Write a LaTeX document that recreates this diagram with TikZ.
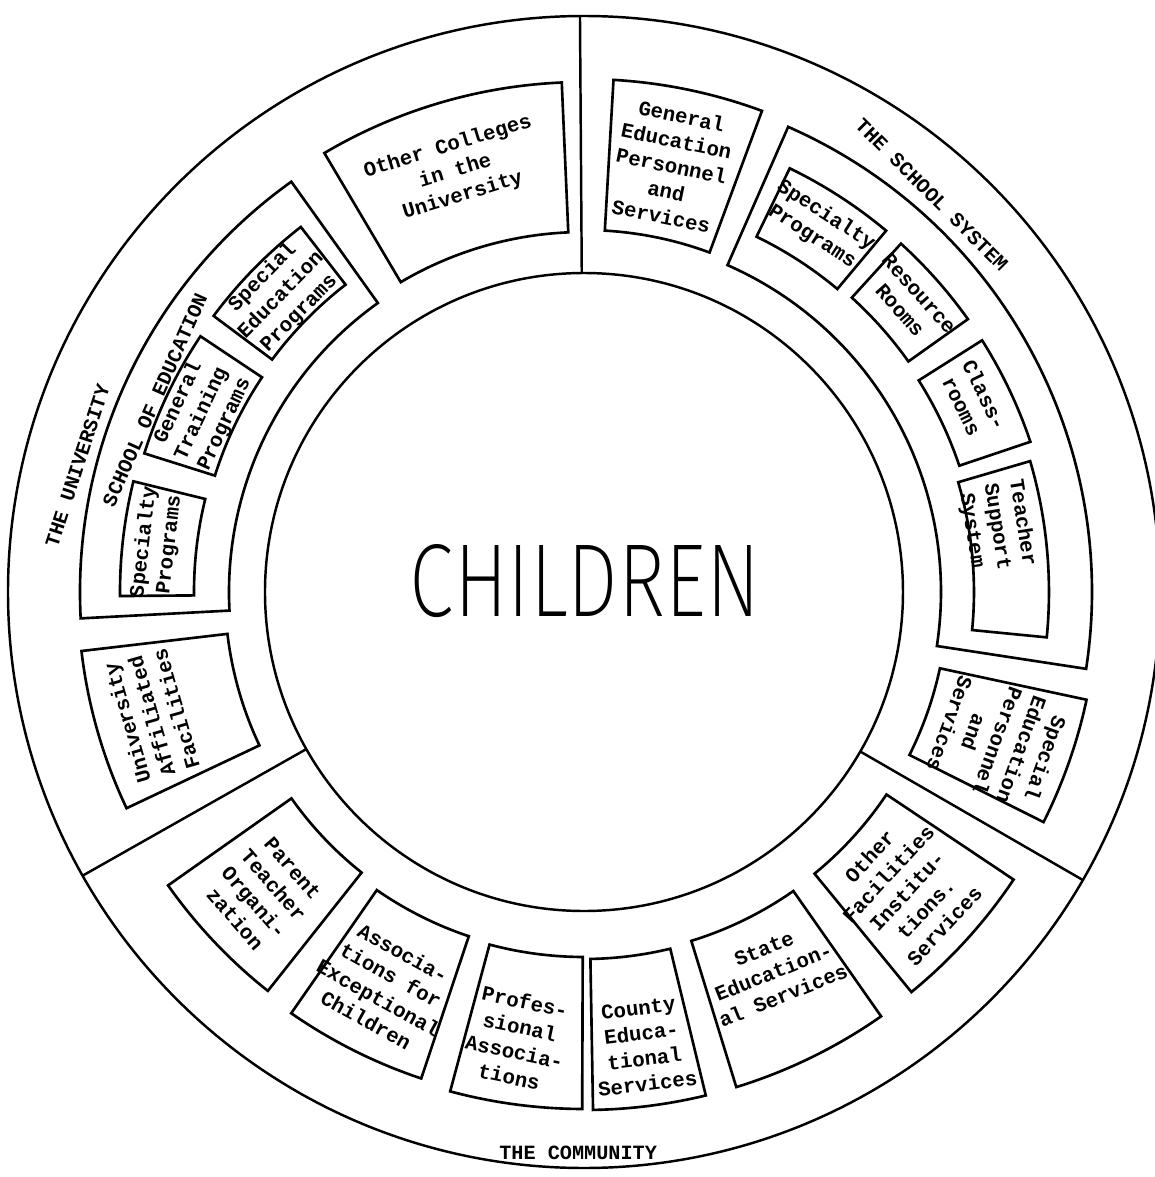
\documentclass[tikz,border=0pt]{standalone}
\usepackage{fontspec}
\usepackage{graphicx}
\setmonofont{Liberation Mono}
\newfontfamily\kidsfont{Fira Sans ExtraLight}

\begin{document}
\begin{tikzpicture}[scale=0.2,
  ring/.style={line width=1.4pt},
  tile/.style={line width=1.5pt, line join=miter},
  tiletext/.style={font=\ttfamily\bfseries\fontsize{11.8}{14.5}\selectfont, align=center, inner sep=0pt},
  sectorlabel/.style={font=\ttfamily\bfseries\fontsize{11.5}{13}\selectfont, inner sep=0pt},
]
  \fill[white] (-58.4,-58.5) rectangle (57.1,59.2);
  \useasboundingbox (-58.4,-58.5) rectangle (57.1,59.2);

  % Outer ring and the inner circle
  \draw[ring] (0,0) circle[radius=57.6];
  \draw[ring] (0,0) circle[radius=31.9];
  \node[inner sep=0pt] (children) at (0.1,1.1) {\resizebox{70mm}{14.4mm}{\kidsfont CHILDREN}};

  % Sector dividers
  \draw[ring] (90.4:31.9) -- (90.4:57.6);
  \draw[ring] (209.5:31.9) -- (209.5:57.6);
  \draw[ring] (-30:31.9) -- (-30:57.6);

  % The University
  \node[sectorlabel, rotate=72] (university) at (166:52.2) {THE UNIVERSITY};
  \draw[tile] (92.5:36.0) arc[start angle=92.5, end angle=120.6, radius=36.0] -- (120.6:51.0) arc[start angle=120.6, end angle=92.5, radius=51.0] -- cycle;
  \node[tiletext, rotate=17] (colleges) at (107:44.0) {Other Colleges\\in the\\University};
  \draw[tile] (186.7:35.9) arc[start angle=186.7, end angle=205.3, radius=35.9] -- (205.3:50.6) arc[start angle=205.3, end angle=186.7, radius=50.6] -- cycle;
  \node[tiletext, rotate=106] (affiliated) at (196:45.0) {University\\Affiliated\\Facilities};

  % School of Education frame
  \draw[tile] (125.5:35.5) arc[start angle=125.5, end angle=183, radius=35.5] -- (183:50.4) arc[start angle=183, end angle=125.5, radius=50.4] -- cycle;
  \node[sectorlabel, rotate=66] (schoolofed) at (155.9:47.0) {SCHOOL OF EDUCATION};
  \draw[tile] (127.8:38.9) arc[start angle=127.8, end angle=143.3, radius=38.9] -- (143.3:46.2) arc[start angle=143.3, end angle=127.8, radius=46.2] -- cycle;
  \node[tiletext, rotate=45.6] (specedprog) at (135.6:42.4) {Special\\Education\\Programs};
  \draw[tile] (146.3:38.7) arc[start angle=146.3, end angle=162.5, radius=38.7] -- (162.5:46.1) arc[start angle=162.5, end angle=146.3, radius=46.1] -- cycle;
  \node[tiletext, rotate=65] (training) at (155:42.2) {General\\Training\\Programs};
  \draw[tile] (166.2:39.0) arc[start angle=166.2, end angle=180.5, radius=39.0] -- (180.5:46.4) arc[start angle=180.5, end angle=166.2, radius=46.4] -- cycle;
  \node[tiletext, rotate=83.5] (specialtyuni) at (173.5:43.0) {Specialty\\Programs};

  % The School System
  \node[sectorlabel, rotate=-45] (schoolsystem) at (48.8:52.8) {THE SCHOOL SYSTEM};
  \draw[tile] (69.7:36.2) arc[start angle=69.7, end angle=86.7, radius=36.2] -- (86.7:51.3) arc[start angle=86.7, end angle=69.7, radius=51.3] -- cycle;
  \node[tiletext, rotate=-11.6] (generaled) at (78.4:43.5) {General\\Education\\Personnel\\and\\Services};
  \draw[tile] (-26.6:36.4) arc[start angle=-26.6, end angle=-12.1, radius=36.4] -- (-12.1:51.4) arc[start angle=-12.1, end angle=-26.6, radius=51.4] -- cycle;
  \node[tiletext, rotate=-109.8] (specedpers) at (-19.8:44.0) {Special\\Education\\Personnel\\and\\Services};

  % School System frame
  \draw[tile] (-8.7:35.7) arc[start angle=-8.7, end angle=66.3, radius=35.7] -- (66.3:50.8) arc[start angle=66.3, end angle=-8.7, radius=50.8] -- cycle;
  \draw[tile] (50.1:39.5) arc[start angle=50.1, end angle=64.1, radius=39.5] -- (64.1:47.1) arc[start angle=64.1, end angle=50.1, radius=47.1] -- cycle;
  \node[tiletext, rotate=-32.7] (specialtysch) at (57.3:43.5) {Specialty\\Programs};
  \draw[tile] (35.4:39.8) arc[start angle=35.4, end angle=47.7, radius=39.8] -- (47.7:47.1) arc[start angle=47.7, end angle=35.4, radius=47.1] -- cycle;
  \node[tiletext, rotate=-48.3] (resource) at (41.7:43.6) {Resource\\Rooms};
  \draw[tile] (18.6:39.6) arc[start angle=18.6, end angle=32.3, radius=39.6] -- (32.3:47.1) arc[start angle=32.3, end angle=18.6, radius=47.1] -- cycle;
  \node[tiletext, rotate=-63.8] (classrooms) at (26.2:43.4) {Class-\\rooms};
  \draw[tile] (-5.6:39.0) arc[start angle=-5.6, end angle=16.35, radius=39.0] -- (16.35:46.5) arc[start angle=16.35, end angle=-5.6, radius=46.5] -- cycle;
  \node[tiletext, rotate=-81] (teacher) at (9:41.8) {Teacher\\Support\\System};

  % The Community
  \node[sectorlabel, rotate=0] (community) at (-90.6:56.1) {THE COMMUNITY};
  \draw[tile] (-50.7:36.4) arc[start angle=-50.7, end angle=-33.8, radius=36.4] -- (-33.8:51.7) arc[start angle=-33.8, end angle=-50.7, radius=51.7] -- cycle;
  \node[tiletext, rotate=47.2] (otherfac) at (-42.8:44.0) {Other\\Facilities\\Institu-\\tions.\\Services};
  \draw[tile] (-72.9:36.5) arc[start angle=-72.9, end angle=-55.0, radius=36.5] -- (-55.0:51.8) arc[start angle=-55.0, end angle=-72.9, radius=51.8] -- cycle;
  \node[tiletext, rotate=22] (state) at (-63.5:42.5) {State\\Education-\\al Services};
  \draw[tile] (-89.0:36.7) arc[start angle=-89.0, end angle=-76.4, radius=36.7] -- (-76.4:51.8) arc[start angle=-76.4, end angle=-89.0, radius=51.8] -- cycle;
  \node[tiletext, rotate=7] (county) at (-82.6:45.8) {County\\Educa-\\tional\\Services};
  \draw[tile] (-105.0:36.5) arc[start angle=-105.0, end angle=-90.2, radius=36.5] -- (-90.2:51.7) arc[start angle=-90.2, end angle=-105.0, radius=51.7] -- cycle;
  \node[tiletext, rotate=-12] (professional) at (-98.5:45.2) {Profes-\\sional\\Associa-\\tions};
  \draw[tile] (235.2:36.3) arc[start angle=235.2, end angle=251.5, radius=36.3] -- (251.5:51.3) arc[start angle=251.5, end angle=235.2, radius=51.3] -- cycle;
  \node[tiletext, rotate=-29] (exceptional) at (243.2:44.2) {Associa-\\tions for\\Exceptional\\Children};
  \draw[tile] (215.2:35.8) arc[start angle=215.2, end angle=231.6, radius=35.8] -- (231.6:50.9) arc[start angle=231.6, end angle=215.2, radius=50.9] -- cycle;
  \node[tiletext, rotate=-49] (parent) at (223.3:44.0) {Parent\\Teacher\\Organi-\\zation};
\end{tikzpicture}
\end{document}
